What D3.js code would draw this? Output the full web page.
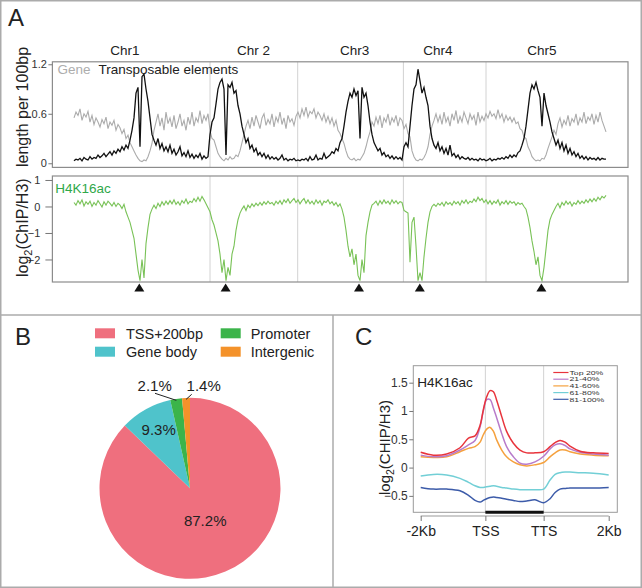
<!DOCTYPE html>
<html><head><meta charset="utf-8">
<script src="https://cdn.jsdelivr.net/npm/d3@7"></script>
<style>body{margin:0;background:#fff}svg{display:block;font-family:"Liberation Sans",Arial,Helvetica,sans-serif}</style>
</head><body><svg id="c" width="642" height="588"></svg>
<script>
// ---------- Panel A data (genome bins, Chr1..Chr5 concatenated) ----------
const chrLabels = ["Chr1", "Chr 2", "Chr3", "Chr4", "Chr5"];
const chrLabelBins = [25.5, 89.75, 140.3, 182, 233.9];
const chrBoundaryBins = [68, 111.85, 164.7, 206];
const centromereBins = [32.65, 75.8, 142.5, 172.9, 233.7];
const topTicks = [0, 0.6, 1.2];
const bottomTicks = [1, 0, -1, -2];

const geneDensity = [
  0.55,0.62,0.58,0.66,0.52,0.6,0.56,0.63,0.5,0.58,
  0.47,0.55,0.5,0.44,0.53,0.48,0.56,0.42,0.5,0.46,
  0.52,0.4,0.47,0.43,0.36,0.41,0.3,0.34,0.25,0.2,
  0.15,0.1,0.06,0.03,0.02,0.04,0.03,0.08,0.15,0.24,
  0.4,0.5,0.6,0.45,0.55,0.4,0.62,0.48,0.55,0.44,
  0.58,0.42,0.5,0.6,0.45,0.52,0.4,0.56,0.47,0.62,
  0.45,0.55,0.5,0.64,0.48,0.58,0.52,0.6,0.4,0.3,
  0.28,0.2,0.12,0.08,0.05,0.03,0.06,0.04,0.08,0.05,
  0.06,0.1,0.08,0.15,0.25,0.35,0.45,0.52,0.42,0.56,
  0.45,0.58,0.5,0.42,0.55,0.6,0.46,0.53,0.48,0.6,
  0.44,0.56,0.5,0.62,0.47,0.55,0.42,0.58,0.5,0.54,
  0.46,0.57,0.62,0.55,0.66,0.58,0.68,0.56,0.63,0.6,
  0.66,0.55,0.62,0.58,0.52,0.6,0.5,0.57,0.48,0.55,
  0.45,0.52,0.4,0.36,0.3,0.24,0.15,0.08,0.05,0.04,
  0.06,0.03,0.05,0.04,0.08,0.12,0.2,0.3,0.38,0.5,
  0.45,0.56,0.48,0.58,0.43,0.55,0.5,0.6,0.46,0.55,
  0.5,0.58,0.45,0.55,0.52,0.42,0.47,0.36,0.32,0.15,
  0.08,0.04,0.03,0.05,0.04,0.07,0.12,0.2,0.35,0.45,
  0.52,0.6,0.5,0.58,0.47,0.62,0.5,0.56,0.45,0.6,
  0.52,0.64,0.48,0.57,0.5,0.62,0.55,0.48,0.6,0.53,
  0.58,0.46,0.62,0.5,0.57,0.52,0.6,0.55,0.63,0.57,
  0.6,0.54,0.65,0.55,0.6,0.5,0.58,0.52,0.56,0.5,
  0.55,0.48,0.5,0.42,0.4,0.32,0.3,0.2,0.15,0.08,
  0.05,0.03,0.04,0.03,0.06,0.05,0.1,0.18,0.25,0.32,
  0.4,0.35,0.48,0.55,0.44,0.52,0.47,0.58,0.45,0.54,
  0.5,0.6,0.46,0.55,0.5,0.62,0.48,0.56,0.52,0.6,
  0.47,0.58,0.5,0.62,0.52,0.45,0.38
];
const teDensity = [
  0.03,0.05,0.04,0.06,0.03,0.07,0.05,0.04,0.08,0.05,
  0.07,0.06,0.1,0.07,0.09,0.12,0.08,0.11,0.14,0.1,
  0.15,0.12,0.17,0.14,0.2,0.16,0.22,0.18,0.28,0.4,
  0.55,0.85,0.92,0.2,1.05,1.08,0.9,0.75,0.55,0.35,
  0.28,0.22,0.3,0.18,0.24,0.15,0.2,0.14,0.22,0.12,
  0.17,0.1,0.14,0.2,0.09,0.13,0.08,0.15,0.07,0.11,
  0.06,0.1,0.07,0.12,0.05,0.09,0.06,0.08,0.35,0.5,
  0.55,0.72,0.9,0.98,1.02,0.9,0.1,0.95,0.92,0.98,
  0.85,0.88,0.7,0.6,0.45,0.35,0.25,0.3,0.18,0.22,
  0.14,0.18,0.1,0.13,0.08,0.12,0.06,0.1,0.05,0.08,
  0.05,0.07,0.04,0.06,0.1,0.04,0.06,0.03,0.05,0.04,
  0.06,0.03,0.04,0.03,0.05,0.04,0.06,0.03,0.08,0.04,
  0.05,0.1,0.04,0.06,0.05,0.12,0.06,0.08,0.1,0.14,
  0.12,0.18,0.15,0.25,0.3,0.45,0.62,0.75,0.85,0.8,
  0.9,0.82,0.88,0.3,0.92,0.8,0.85,0.7,0.5,0.35,
  0.25,0.2,0.15,0.18,0.1,0.13,0.08,0.1,0.06,0.09,
  0.05,0.08,0.05,0.07,0.04,0.2,0.25,0.2,0.45,0.7,
  0.9,0.95,1.14,1.0,0.85,0.92,0.8,0.7,0.45,0.3,
  0.22,0.18,0.25,0.15,0.2,0.12,0.18,0.1,0.22,0.09,
  0.12,0.07,0.1,0.05,0.08,0.06,0.05,0.07,0.04,0.06,
  0.04,0.05,0.03,0.06,0.04,0.05,0.03,0.04,0.06,0.03,
  0.05,0.04,0.06,0.05,0.07,0.05,0.08,0.06,0.1,0.07,
  0.1,0.08,0.13,0.15,0.22,0.3,0.45,0.65,0.85,0.95,
  0.9,0.98,0.88,0.8,0.45,0.85,0.7,0.6,0.5,0.38,
  0.3,0.22,0.28,0.18,0.25,0.15,0.22,0.12,0.18,0.1,
  0.14,0.08,0.12,0.06,0.09,0.05,0.08,0.04,0.07,0.05,
  0.06,0.04,0.07,0.04,0.06,0.05,0.05
];
const h4k16acGenome = [
  0.15,0.05,0.22,0.1,0.25,0.02,0.18,0.08,0.2,0.0,
  0.15,0.05,0.22,0.1,-0.02,0.18,0.05,0.2,0.12,0.02,
  0.15,0.0,0.12,0.05,-0.08,0.08,-0.2,-0.4,-0.6,-0.9,
  -1.2,-1.8,-2.4,-2.8,-2.0,-2.7,-1.4,-0.8,-0.3,-0.1,
  0.05,-0.08,0.12,0.0,0.18,0.05,0.2,0.08,0.22,0.1,
  0.25,0.08,0.18,0.05,0.22,0.12,0.28,0.1,0.2,0.15,
  0.3,0.18,0.35,0.2,0.38,0.25,0.1,-0.05,-0.2,-0.5,
  -0.7,-1.0,-1.3,-1.8,-2.5,-2.0,-2.8,-2.3,-2.6,-1.8,
  -1.5,-0.9,-0.5,-0.25,-0.1,0.02,-0.15,0.05,-0.05,0.1,
  0.0,0.12,0.03,0.15,0.05,0.18,0.08,0.2,0.1,0.15,
  0.05,0.2,0.1,0.22,0.08,0.25,0.15,0.28,0.12,0.22,
  0.3,0.15,0.25,0.1,0.22,0.3,0.12,0.25,0.1,0.2,
  0.08,0.25,0.12,0.22,0.05,0.2,0.15,0.25,0.1,0.18,
  0.05,0.15,0.0,0.1,-0.1,-0.4,-0.9,-1.5,-1.9,-1.6,
  -2.2,-1.8,-2.6,-2.8,-2.0,-2.5,-1.1,-0.6,-0.2,0.05,
  0.12,0.2,0.05,0.22,0.1,0.25,0.12,0.2,0.08,0.25,
  0.12,0.22,0.1,0.18,0.15,-0.15,-0.2,-0.25,-2.1,-0.6,
  -0.4,-1.5,-2.8,-2.5,-2.8,-1.9,-1.2,-0.6,-0.2,0.0,
  0.08,0.0,0.12,0.05,0.15,0.02,0.18,0.08,0.15,0.05,
  0.2,0.1,0.18,0.05,0.22,0.12,0.25,0.1,0.2,0.15,
  0.28,0.18,0.35,0.22,0.3,0.15,0.25,0.1,0.22,0.08,
  0.2,0.12,0.25,0.05,0.18,0.1,0.22,0.08,0.2,0.12,
  0.18,0.05,0.15,0.08,0.12,0.0,-0.1,-0.4,-0.8,-1.3,
  -1.7,-2.2,-1.9,-2.6,-2.8,-2.3,-1.6,-0.9,-0.5,-0.3,
  -0.15,0.0,0.12,-0.05,0.15,0.05,0.2,0.08,0.18,0.02,
  0.15,0.08,0.22,0.1,0.2,0.12,0.25,0.15,0.28,0.18,
  0.3,0.2,0.35,0.25,0.38,0.32,0.42
];

// ---------- Panel B data ----------
const pieCategories = ["TSS+200bp", "Gene body", "Promoter", "Intergenic"];
const pieValues = [87.2, 9.3, 2.1, 1.4];
const pieLabels = ["87.2%", "9.3%", "2.1%", "1.4%"];

// ---------- Panel C data ----------
const profileX = [0,6.7,13.8,20.9,25.4,28.9,31.6,33.3,35.1,36.9,38.7,40.4,43.1,45.7,49.3,52.8,56.4,60.8,65.4,68.8,71.5,74.1,76.8,79.4,84.8,91.8,100];
const profileTickPos = [0, 34.4, 65.4, 100];
const profileTickLabels = ["-2Kb", "TSS", "TTS", "2Kb"];
const profileYTicks = [1.5, 1, 0.5, 0, -0.5];
const groupNames = ["Top 20%", "21-40%", "41-60%", "61-80%", "81-100%"];
const top20 =   [0.27,0.22,0.24,0.35,0.52,0.56,0.75,1.02,1.25,1.36,1.34,1.19,0.9,0.64,0.43,0.31,0.26,0.26,0.28,0.37,0.44,0.48,0.45,0.38,0.29,0.26,0.25];
const p21_40 =  [0.22,0.19,0.21,0.31,0.40,0.48,0.72,1.0,1.2,1.2,1.05,0.88,0.6,0.37,0.19,0.08,0.06,0.1,0.2,0.33,0.4,0.42,0.39,0.33,0.27,0.24,0.22];
const p41_60 =  [0.19,0.18,0.19,0.28,0.34,0.37,0.45,0.58,0.68,0.71,0.64,0.49,0.31,0.19,0.1,0.05,0.03,0.05,0.09,0.19,0.26,0.31,0.31,0.28,0.24,0.22,0.21];
const p61_80 =  [-0.15,-0.12,-0.13,-0.19,-0.26,-0.32,-0.35,-0.35,-0.34,-0.33,-0.32,-0.33,-0.35,-0.36,-0.38,-0.39,-0.39,-0.39,-0.38,-0.22,-0.12,-0.09,-0.08,-0.08,-0.09,-0.1,-0.13];
const p81_100 = [-0.35,-0.38,-0.38,-0.41,-0.49,-0.58,-0.61,-0.58,-0.55,-0.53,-0.52,-0.53,-0.54,-0.56,-0.58,-0.6,-0.59,-0.57,-0.62,-0.55,-0.44,-0.38,-0.37,-0.36,-0.36,-0.36,-0.35];

const svg = d3.select("#c");
const frameColor = "#ababab";

svg.append("rect").attr("x", 0.75).attr("y", 0.75).attr("width", 640.5).attr("height", 586.5)
  .attr("fill", "none").attr("stroke", frameColor).attr("stroke-width", 1.5);
svg.append("line").attr("x1", 0).attr("x2", 642).attr("y1", 315).attr("y2", 315).attr("stroke", frameColor).attr("stroke-width", 1.5);
svg.append("line").attr("x1", 333).attr("x2", 333).attr("y1", 315).attr("y2", 588).attr("stroke", frameColor).attr("stroke-width", 1.5);

[["A", 8, 26], ["B", 15, 345], ["C", 355, 345]].forEach(([t, x, y]) =>
  svg.append("text").attr("x", x).attr("y", y).attr("font-size", 24).attr("fill", "#222").text(t));

// ================= Panel A =================
const xA = d3.scaleLinear().domain([0, geneDensity.length - 1]).range([74, 606]);
const yTop = d3.scaleLinear().domain([-0.05, 1.23]).range([167.4, 61.8]);
const yBot = d3.scaleLinear().domain([-2.85, 1.15]).range([282, 176]);
const boxL = 52.4, boxR = 628;

function box(y0, y1) {
  svg.append("rect").attr("x", boxL).attr("y", y0).attr("width", boxR - boxL).attr("height", y1 - y0)
    .attr("fill", "none").attr("stroke", "#8c8c8c").attr("stroke-width", 1.2);
}
[[61.8, 167.4], [176, 282]].forEach(([y0, y1]) => {
  svg.append("g").selectAll("line").data(chrBoundaryBins).join("line")
    .attr("x1", d => xA(d)).attr("x2", d => xA(d)).attr("y1", y0).attr("y2", y1)
    .attr("stroke", "#d2d2d2").attr("stroke-width", 1);
});

svg.append("g").selectAll("text").data(chrLabels).join("text")
  .attr("x", (d, i) => xA(chrLabelBins[i])).attr("y", 55).attr("text-anchor", "middle")
  .attr("font-size", 13.5).attr("fill", "#222").text(d => d);

const lineTop = d3.line().x((d, i) => xA(i)).y(d => yTop(d));
svg.append("path").attr("d", lineTop(geneDensity)).attr("fill", "none").attr("stroke", "#ababab").attr("stroke-width", 1.1);
svg.append("path").attr("d", lineTop(teDensity)).attr("fill", "none").attr("stroke", "#111").attr("stroke-width", 1.3);
const lineBot = d3.line().x((d, i) => xA(i)).y(d => yBot(d));
svg.append("path").attr("d", lineBot(h4k16acGenome)).attr("fill", "none").attr("stroke", "#79c257").attr("stroke-width", 1.1);

box(61.8, 167.4);
box(176, 282);

const axTop = svg.append("g").attr("transform", `translate(${boxL},0)`)
  .call(d3.axisLeft(yTop).tickValues(topTicks).tickSize(4).tickPadding(1.5).tickFormat(d => d === 0 ? "0" : d3.format(".1f")(d)));
const axBot = svg.append("g").attr("transform", `translate(${boxL},0)`)
  .call(d3.axisLeft(yBot).tickValues(bottomTicks).tickSize(7).tickPadding(5).tickFormat(d3.format("d")));
[axTop, axBot].forEach(a => {
  a.select(".domain").remove();
  a.selectAll("line").attr("stroke", "#777");
  a.selectAll("text").attr("font-size", 11).attr("fill", "#333").attr("font-family", null);
});

svg.append("text").attr("x", 57.4).attr("y", 74).attr("font-size", 13.5).attr("fill", "#adadad").text("Gene");
svg.append("text").attr("x", 98.4).attr("y", 74).attr("font-size", 13.5).attr("fill", "#222").text("Transposable elements");
svg.append("text").attr("x", 55.3).attr("y", 192.5).attr("font-size", 13.5).attr("fill", "#2fa84a").text("H4K16ac");

svg.append("g").selectAll("path").data(centromereBins).join("path")
  .attr("d", d => { const cx = xA(d); return `M${cx},283.5L${cx + 5},291.5L${cx - 5},291.5Z`; })
  .attr("fill", "#111");

const yl1 = svg.append("text").attr("transform", "translate(28,277) rotate(-90)").attr("font-size", 16).attr("fill", "#222");
yl1.append("tspan").text("log");
yl1.append("tspan").attr("font-size", 11).attr("dy", 4).text("2");
yl1.append("tspan").attr("dy", -4).text("(ChIP/H3)");
svg.append("text").attr("transform", "translate(28,167) rotate(-90)").attr("font-size", 16).attr("fill", "#222").text("length per 100bp");

// ================= Panel B =================
const pieColors = ["#ef6f7e", "#4fc3cb", "#3bb44a", "#f4922a"];
const pieCx = 190, pieCy = 488.3, pieR = 90.5;
const arcs = d3.pie().sort(null).value(d => d)(pieValues);
const arc = d3.arc().innerRadius(0).outerRadius(pieR);
const gPie = svg.append("g").attr("transform", `translate(${pieCx},${pieCy})`);
gPie.selectAll("path").data(arcs).join("path").attr("d", arc).attr("fill", (d, i) => pieColors[i]);

const inArc0 = d3.arc().innerRadius(35).outerRadius(35);
const inArc1 = d3.arc().innerRadius(67).outerRadius(67);
const edgeArc = d3.arc().innerRadius(89).outerRadius(89);
[[0, inArc0], [1, inArc1]].forEach(([i, a]) => {
  const c = a.centroid(arcs[i]);
  gPie.append("text").attr("x", c[0] + 1.5).attr("y", c[1] + 5).attr("text-anchor", "middle")
    .attr("font-size", 15).attr("fill", "#222").text(pieLabels[i]);
});
const outside = [{ i: 2, tx: -35.3, ty: -97.3, lx: -35, ly: -95 }, { i: 3, tx: 13.7, ty: -97.3, lx: 1.7, ly: -94 }];
outside.forEach(o => {
  const e = edgeArc.centroid(arcs[o.i]);
  gPie.append("line").attr("x1", e[0]).attr("y1", e[1]).attr("x2", o.lx).attr("y2", o.ly)
    .attr("stroke", "#222").attr("stroke-width", 1);
  gPie.append("text").attr("x", o.tx).attr("y", o.ty).attr("text-anchor", "middle")
    .attr("font-size", 15).attr("fill", "#222").text(pieLabels[o.i]);
});

const legB = [[95, 328.3, 126], [95, 346.7, 126], [220.7, 328.3, 250.7], [220.7, 346.7, 250.7]];
pieCategories.forEach((c, i) => {
  const [rx, ry, tx] = legB[i];
  svg.append("rect").attr("x", rx).attr("y", ry).attr("width", 20).attr("height", 10).attr("fill", pieColors[i]);
  svg.append("text").attr("x", tx).attr("y", ry + 10.3).attr("font-size", 14.5).attr("fill", "#222").text(c);
});

// ================= Panel C =================
const xC = d3.scaleLinear().domain([0, 100]).range([420.7, 608.7]);
const yC = d3.scaleLinear().domain([-0.79, 1.8]).range([512.3, 365.7]);
const cBoxL = 413.3, cBoxR = 617.3, cBoxT = 365.7, cBoxB = 512.3;

svg.append("g").selectAll("line").data(profileTickPos.slice(1, 3)).join("line")
  .attr("x1", d => xC(d)).attr("x2", d => xC(d)).attr("y1", cBoxT).attr("y2", cBoxB)
  .attr("stroke", "#d2d2d2").attr("stroke-width", 1);

const groupColors = ["#e8343c", "#b87bca", "#f5a13e", "#72cfd6", "#3c5ba9"];
const groupSeries = [top20, p21_40, p41_60, p61_80, p81_100];
const lineC = d3.line().x((d, i) => xC(profileX[i])).y(d => yC(d)).curve(d3.curveCatmullRom.alpha(0.5));
for (let i = groupSeries.length - 1; i >= 0; i--) {
  svg.append("path").attr("d", lineC(groupSeries[i])).attr("fill", "none").attr("stroke", groupColors[i]).attr("stroke-width", 1.5);
}

svg.append("rect").attr("x", cBoxL).attr("y", cBoxT).attr("width", cBoxR - cBoxL).attr("height", cBoxB - cBoxT)
  .attr("fill", "none").attr("stroke", "#9a9a9a").attr("stroke-width", 1);

svg.append("line").attr("x1", xC(profileTickPos[1])).attr("x2", xC(profileTickPos[2]))
  .attr("y1", cBoxB).attr("y2", cBoxB).attr("stroke", "#111").attr("stroke-width", 3);

const axCy = svg.append("g").attr("transform", `translate(${cBoxL},0)`)
  .call(d3.axisLeft(yC).tickValues(profileYTicks).tickSize(4).tickPadding(1.5).tickFormat(d => d3.format("")(d)));
axCy.select(".domain").remove();
axCy.selectAll("line").attr("stroke", "#777");
axCy.selectAll("text").attr("font-size", 12).attr("fill", "#333").attr("font-family", null);

const axCx = svg.append("g").attr("transform", `translate(0,516)`)
  .call(d3.axisBottom(xC).tickValues(profileTickPos).tickSize(5).tickPadding(5.5).tickFormat((d, i) => profileTickLabels[i]));
axCx.select(".domain").attr("stroke", "#999").attr("d", `M${xC(0)},0H${xC(100)}`);
axCx.selectAll("line").attr("stroke", "#777");
axCx.selectAll("text").attr("font-size", 14).attr("fill", "#222").attr("font-family", null);

svg.append("text").attr("x", 417.3).attr("y", 386.5).attr("font-size", 13.5).attr("fill", "#222").text("H4K16ac");

const ylc = svg.append("text").attr("transform", "translate(390,447.5) rotate(-90)").attr("text-anchor", "middle")
  .attr("font-size", 15).attr("fill", "#222");
ylc.append("tspan").text("log");
ylc.append("tspan").attr("font-size", 10.5).attr("dy", 4).text("2");
ylc.append("tspan").attr("dy", -4).text("(CHIP/H3)");

// legend C (tightly stacked as in the reference)
groupNames.forEach((g, i) => {
  const yy = 372.5 + i * 6.7;
  svg.append("line").attr("x1", 553.3).attr("x2", 568.5).attr("y1", yy).attr("y2", yy)
    .attr("stroke", groupColors[i]).attr("stroke-width", 1.2);
  svg.append("text").attr("transform", `translate(569.5,${yy + 2.2}) scale(1.45,1)`)
    .attr("font-size", 6).attr("fill", "#333").text(g);
});
</script></body></html>
